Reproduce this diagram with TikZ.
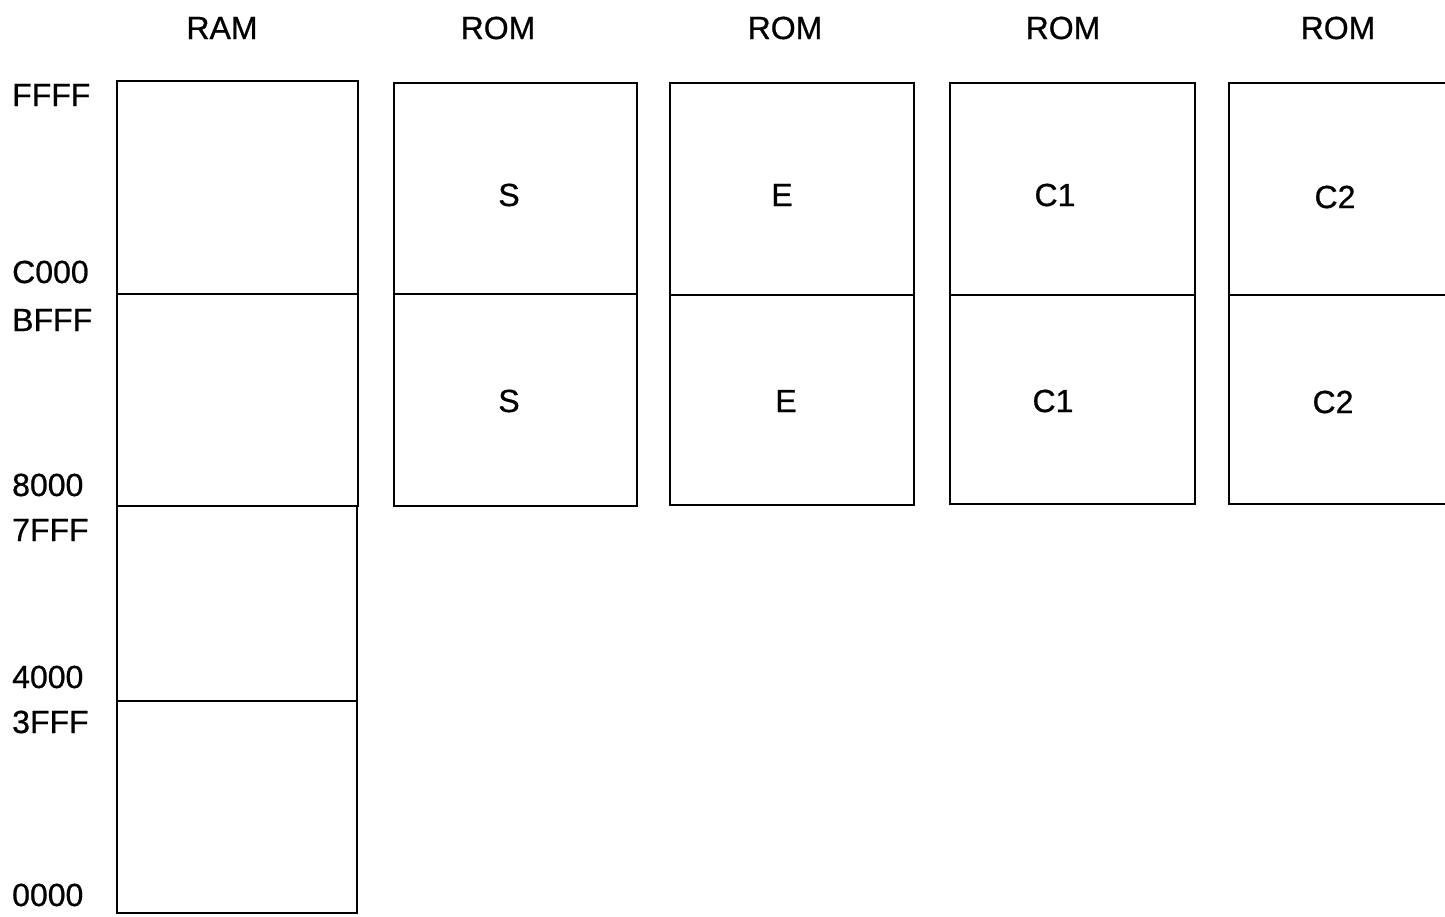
\documentclass[tikz,border=0pt]{standalone}
\usepackage{fontspec}
\setmainfont{Liberation Sans}[BoldFont={Liberation Sans},BoldFeatures={FakeBold=0.7}]
\newcommand{\tsz}{\bfseries\fontsize{32}{32}\selectfont}
\begin{document}
\begin{tikzpicture}[x=1pt,y=-1pt,
  cell/.style={draw=black,line width=1.8pt,rectangle,inner sep=0pt},
  txt/.style={inner sep=0pt,font=\tsz},
  lbl/.style={anchor=base west,inner sep=0pt,font=\tsz},
  hdr/.style={anchor=base,inner sep=0pt,font=\tsz}]
\useasboundingbox (0,0) rectangle (1445,916);
\clip (0,0) rectangle (1445,916);
% headers
\node[hdr] (hram) at (222,39) {RAM};
\node[hdr] (hs) at (498,39) {ROM};
\node[hdr] (he) at (785,39) {ROM};
\node[hdr] (hc1) at (1063,39) {ROM};
\node[hdr] (hc2) at (1338,39) {ROM};
% address labels
\node[lbl] (aFFFF) at (12,106) {FFFF};
\node[lbl] (aC000) at (12,283) {C000};
\node[lbl] (aBFFF) at (12,331) {BFFF};
\node[lbl] (a8000) at (12,496) {8000};
\node[lbl] (a7FFF) at (12,541) {7FFF};
\node[lbl] (a4000) at (12,688) {4000};
\node[lbl] (a3FFF) at (12,733) {3FFF};
\node[lbl] (a0000) at (12,906) {0000};
% RAM column
\node[cell,minimum width=241pt,minimum height=213pt] (r1) at (237.5,187.5) {};
\node[cell,minimum width=241pt,minimum height=212pt] (r2) at (237.5,400) {};
\node[cell,minimum width=240pt,minimum height=195pt] (r3) at (237,603.5) {};
\node[cell,minimum width=240pt,minimum height=212pt] (r4) at (237,807) {};
% ROM S
\node[cell,minimum width=243pt,minimum height=211pt] (s1) at (515.5,188.5) {};
\node[cell,minimum width=243pt,minimum height=212pt] (s2) at (515.5,400) {};
\node[txt] (ts1) at (509,195) {S};
\node[txt] (ts2) at (509,401) {S};
% ROM E
\node[cell,minimum width=244pt,minimum height=212pt] (e1) at (792,189) {};
\node[cell,minimum width=244pt,minimum height=210pt] (e2) at (792,400) {};
\node[txt] (te1) at (782,195) {E};
\node[txt] (te2) at (786,401) {E};
% ROM C1
\node[cell,minimum width=245pt,minimum height=212pt] (c1a) at (1072.5,189) {};
\node[cell,minimum width=245pt,minimum height=209pt] (c1b) at (1072.5,399.5) {};
\node[txt] (tc1a) at (1055,195) {C1};
\node[txt] (tc1b) at (1053,401) {C1};
% ROM C2 (extends past right edge)
\node[cell,minimum width=245pt,minimum height=212pt] (c2a) at (1351.5,189) {};
\node[cell,minimum width=245pt,minimum height=209pt] (c2b) at (1351.5,399.5) {};
\node[txt] (tc2a) at (1335,197) {C2};
\node[txt] (tc2b) at (1333,402) {C2};
\end{tikzpicture}
\end{document}
